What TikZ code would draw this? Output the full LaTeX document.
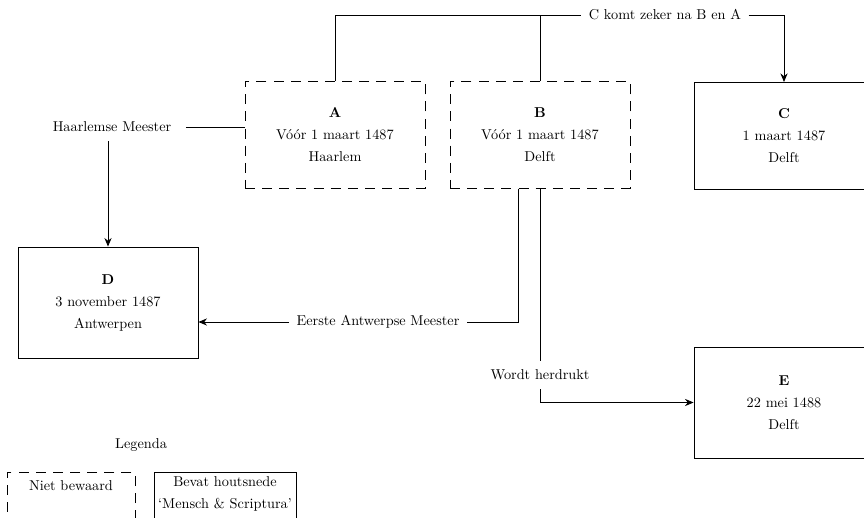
\documentclass[tikz,border=0pt]{standalone}
\usepackage{fontspec}
\usetikzlibrary{calc, positioning, arrows.meta}

\begin{document}
\begin{tikzpicture}[>={Stealth[length=6pt, width=5pt]}, x=0.7pt, y=-0.7pt, line width=0.6pt,
  every node/.style={font=\fontsize{10}{15.4}\selectfont, align=center},
  druk/.style={draw, rectangle, minimum width=126pt, minimum height=75pt, inner sep=0pt},
  verloren/.style={druk, dash pattern=on 7pt off 5pt},
  uitleg/.style={inner xsep=5pt, inner ysep=6pt}]
  \useasboundingbox (0,0) rectangle (864,518);

  % Drukken
  \node[verloren] (A) at (335,135) {\textbf{A}\\Vóór 1 maart 1487\\Haarlem};
  \node[verloren] (B) at (540,135) {\textbf{B}\\Vóór 1 maart 1487\\Delft};
  \node[druk] (C) at (784,136) {\textbf{C}\\1 maart 1487\\Delft};
  \node[druk, minimum height=77.7pt] (D) at (108,302.5) {\textbf{D}\\3 november 1487\\Antwerpen};
  \node[druk, minimum height=77.7pt] (E) at (784,402.5) {\textbf{E}\\22 mei 1488\\Delft};

  % Labels bij de verbindingen
  \node[uitleg, inner xsep=10pt] (hm) at (112,127) {Haarlemse Meester};
  \node[uitleg] (ck) at (665,15) {C komt zeker na B en A};
  \node[uitleg] (eam) at (378,322) {Eerste Antwerpse Meester};
  \node[uitleg] (wh) at (540,375) {Wordt herdrukt};

  % Haarlemse Meester
  \draw (hm.east) -- (hm.east -| A.west);
  \draw[->] (hm.south -| D.north) -- (D.north);

  % C komt na A en B
  \draw (A.north) |- (ck.west);
  \draw (B.north) -- (B.north |- ck.west);
  \draw[->] (ck.east) -| (C.north);

  % Eerste Antwerpse Meester
  \coordinate (Bl) at ($(B.south)+(-22,0)$);
  \draw (Bl) |- (eam.east);
  \draw[->] (eam.west) -- (eam.west -| D.east);

  % Herdruk
  \draw (B.south) -- (wh.north);
  \draw[->] (wh.south) |- (E.west);

  % Legenda
  \node (leg) at (141,445) {Legenda};
  \node[verloren, anchor=north, minimum width=89.6pt, minimum height=0pt, inner ysep=6pt, text depth=45pt] (nb) at (71,472) {Niet bewaard};
  \node[druk, anchor=north, minimum width=99.4pt, minimum height=0pt, inner ysep=3pt, text depth=45pt] (bh) at (225,472) {Bevat houtsnede\\`Mensch \& Scriptura'};

\end{tikzpicture}
\end{document}
